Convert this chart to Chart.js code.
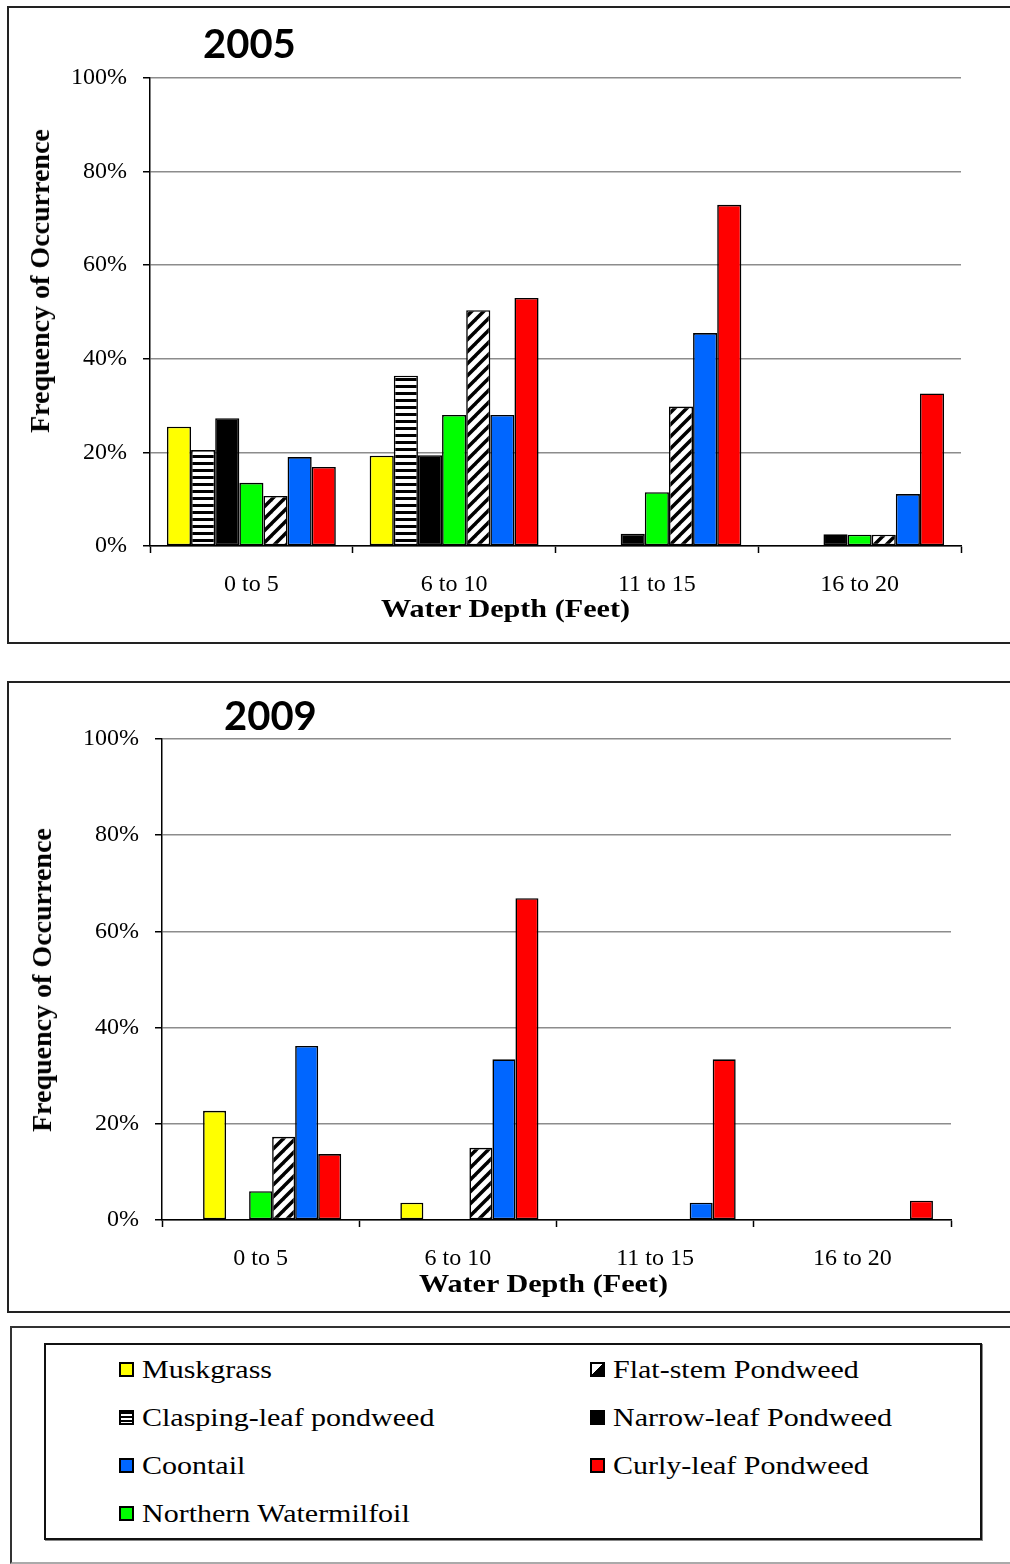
<!DOCTYPE html>
<html>
<head>
<meta charset="utf-8">
<script src="https://cdn.jsdelivr.net/npm/chart.js@4/dist/chart.umd.min.js"></script>
<style>
  html, body { margin: 0; padding: 0; background: #fff; overflow: hidden; }
  body { width: 1010px; height: 1564px; position: relative; }
  .box { position: absolute; box-sizing: border-box; border: 2px solid #222; }
  canvas { position: absolute; }
  .year { position: absolute; font-family: Lato, sans-serif; font-weight: bold; font-size: 40px; line-height: 40px; color: #000; }
  .xtitle { position: absolute; font-family: "Liberation Serif", serif; font-weight: bold; font-size: 26px; line-height: 26px; white-space: nowrap; transform: scaleX(1.16); transform-origin: left top; }
  .ytitle { position: absolute; font-family: "Liberation Serif", serif; font-weight: bold; font-size: 28px; line-height: 28px; white-space: nowrap; transform: translate(-50%, -50%) rotate(-90deg); }
  .leg { position: absolute; font-family: "Liberation Serif", serif; font-size: 25px; line-height: 25px; white-space: nowrap; transform: scaleX(1.2); transform-origin: left top; }
  .sw { position: absolute; box-sizing: border-box; width: 15px; height: 15px; border: 2px solid #000; }
</style>
</head>
<body>
<div class="box" style="left:7px; top:6px; width:1020px; height:638px;"></div>
<div class="box" style="left:7px; top:681px; width:1020px; height:632px;"></div>
<div class="box" style="left:10px; top:1326px; width:1020px; height:238px; border-color:#333 #333 #aaa #333;"></div>
<div class="box" style="left:44px; top:1343px; width:938px; height:197px; border-color:#111; box-shadow:1px 1px 0 #888;"></div>

<canvas id="chart2005" style="left:8px; top:7px;"></canvas>
<canvas id="chart2009" style="left:8px; top:682px;"></canvas>

<div class="year" style="left:203px; top:23px;">2005</div>
<div class="year" style="left:224px; top:695px;">2009</div>
<div class="ytitle" style="left:40px; top:281px;">Frequency of Occurrence</div>
<div class="ytitle" style="left:42px; top:980px;">Frequency of Occurrence</div>
<div class="xtitle" style="left:381px; top:596px;">Water Depth (Feet)</div>
<div class="xtitle" style="left:419px; top:1271px;">Water Depth (Feet)</div>

<div id="legend"></div>

<script>
const depths = ['0 to 5', '6 to 10', '11 to 15', '16 to 20'];
const yTickLabels = ['0%', '20%', '40%', '60%', '80%', '100%'];

// 2005, percent of sites
const muskgrass05 = [25.5, 19.3, 0, 0];
const clasping05 = [20.5, 36.4, 0, 0];
const narrow05 = [27.3, 19.4, 2.6, 2.5];
const milfoil05 = [13.5, 28.0, 11.5, 2.4];
const flatstem05 = [10.7, 50.4, 29.8, 2.4];
const coontail05 = [19.0, 28.0, 45.5, 11.1];
const curly05 = [16.9, 53.0, 72.9, 32.6];

// 2009, percent of sites
const muskgrass09 = [22.7, 3.6, 0, 0];
const clasping09 = [0, 0, 0, 0];
const narrow09 = [0, 0, 0, 0];
const milfoil09 = [6.0, 0, 0, 0];
const flatstem09 = [17.3, 15.0, 0, 0];
const coontail09 = [36.2, 33.4, 3.6, 0];
const curly09 = [13.7, 66.9, 33.4, 4.0];

// fill patterns
function stripePattern() {
    const c = document.createElement('canvas');
    c.width = 8; c.height = 7;
    const x = c.getContext('2d');
    x.fillStyle = '#fff'; x.fillRect(0, 0, 8, 7);
    x.fillStyle = '#000'; x.fillRect(0, 0, 8, 3);
    return x.createPattern(c, 'repeat');
}
function hatchPattern() {
    const c = document.createElement('canvas');
    c.width = 12; c.height = 12;
    const x = c.getContext('2d');
    x.fillStyle = '#fff'; x.fillRect(0, 0, 12, 12);
    x.strokeStyle = '#000'; x.lineWidth = 3.5;
    [-12, 0, 12].forEach(o => {
        x.beginPath(); x.moveTo(o - 1, 13); x.lineTo(o + 13, -1); x.stroke();
    });
    return x.createPattern(c, 'repeat');
}

const fills = {
    'Muskgrass': '#ffff00',
    'Clasping-leaf pondweed': stripePattern(),
    'Narrow-leaf Pondweed': '#000000',
    'Northern Watermilfoil': '#00ff00',
    'Flat-stem Pondweed': hatchPattern(),
    'Coontail': '#0066ff',
    'Curly-leaf Pondweed': '#ff0000'
};

Chart.defaults.font.family = '"Liberation Serif", serif';
Chart.defaults.color = '#000';
Chart.defaults.animation = false;

function ds(name, values) {
    return { label: name, data: values, backgroundColor: fills[name], borderColor: '#000', borderWidth: 1.6, borderSkipped: false };
}

function makeChart(id, w, h, area, catPct, datasets) {
    const cv = document.getElementById(id);
    cv.width = w; cv.height = h;
    cv.style.width = w + 'px'; cv.style.height = h + 'px';
    return new Chart(cv, {
        type: 'bar',
        data: { labels: depths, datasets: datasets },
        options: {
            responsive: false,
            layout: { padding: { left: 0, top: area.top, right: w - area.right, bottom: 0 } },
            plugins: { legend: { display: false }, tooltip: { enabled: false } },
            datasets: { bar: { categoryPercentage: catPct, barPercentage: 1 } },
            scales: {
                x: {
                    grid: { offset: true, drawOnChartArea: false, tickLength: 7, tickColor: '#000', tickWidth: 1.5 },
                    border: { color: '#000', width: 1.5 },
                    ticks: { font: { size: 24 }, padding: 17 },
                    afterFit: s => { s.height = h - area.bottom; }
                },
                y: {
                    min: 0, max: 100,
                    grid: { color: '#8c8c8c', lineWidth: 1.5, tickLength: 7, tickColor: '#000', tickWidth: 1.5 },
                    border: { color: '#000', width: 1.5 },
                    ticks: { stepSize: 20, font: { size: 24 }, padding: 16, callback: v => yTickLabels[v / 20] },
                    afterFit: s => { s.width = area.left; }
                }
            }
        }
    });
}

makeChart('chart2005', 1002, 636, { left: 142, top: 71, right: 953, bottom: 539 }, 0.833, [
    ds('Muskgrass', muskgrass05),
    ds('Clasping-leaf pondweed', clasping05),
    ds('Narrow-leaf Pondweed', narrow05),
    ds('Northern Watermilfoil', milfoil05),
    ds('Flat-stem Pondweed', flatstem05),
    ds('Coontail', coontail05),
    ds('Curly-leaf Pondweed', curly05)
]);

makeChart('chart2009', 1002, 630, { left: 154, top: 57, right: 943, bottom: 538 }, 0.817, [
    ds('Clasping-leaf pondweed', clasping09),
    ds('Muskgrass', muskgrass09),
    ds('Narrow-leaf Pondweed', narrow09),
    ds('Northern Watermilfoil', milfoil09),
    ds('Flat-stem Pondweed', flatstem09),
    ds('Coontail', coontail09),
    ds('Curly-leaf Pondweed', curly09)
]);

// legend, two columns
const legendItems = [
    ['Muskgrass', 119, 1378], ['Flat-stem Pondweed', 590, 1378],
    ['Clasping-leaf pondweed', 119, 1426], ['Narrow-leaf Pondweed', 590, 1426],
    ['Coontail', 119, 1474], ['Curly-leaf Pondweed', 590, 1474],
    ['Northern Watermilfoil', 119, 1522]
];
const swatchCss = {
    'Muskgrass': 'background:#ffff00;',
    'Clasping-leaf pondweed': 'background:repeating-linear-gradient(to bottom,#000 0 2px,#fff 2px 4px);',
    'Narrow-leaf Pondweed': 'background:#000;',
    'Northern Watermilfoil': 'background:#00ff00;',
    'Flat-stem Pondweed': 'background:linear-gradient(to bottom right,#fff 50%,#000 50%);',
    'Coontail': 'background:#0066ff;',
    'Curly-leaf Pondweed': 'background:#ff0000;'
};
const legend = document.getElementById('legend');
legendItems.forEach(([name, x, base]) => {
    const sw = document.createElement('div');
    sw.className = 'sw';
    sw.style.cssText = 'left:' + x + 'px; top:' + (base - 16) + 'px;' + swatchCss[name];
    legend.appendChild(sw);
    const t = document.createElement('div');
    t.className = 'leg';
    t.style.left = (x + 23) + 'px';
    t.style.top = (base - 21) + 'px';
    t.textContent = name;
    legend.appendChild(t);
});
</script>
</body>
</html>
